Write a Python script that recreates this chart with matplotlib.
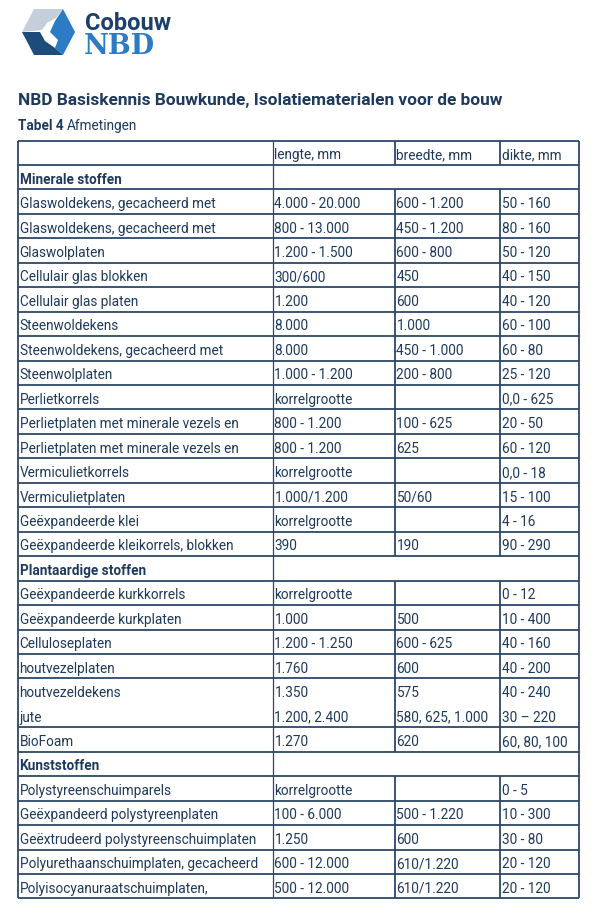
import matplotlib
matplotlib.use("Agg")
import matplotlib.pyplot as plt
from matplotlib.patches import Polygon

plt.rcParams['font.family'] = ['Roboto', 'DejaVu Sans']

title = "NBD Basiskennis Bouwkunde, Isolatiematerialen voor de bouw"
subtitle_bold = "Tabel 4"
subtitle = "Afmetingen"
headers = ["", "lengte, mm", "breedte, mm", "dikte, mm"]
sections = ["Minerale stoffen", "Plantaardige stoffen", "Kunststoffen"]

materials = [
    "Minerale stoffen",
    "Glaswoldekens, gecacheerd met",
    "Glaswoldekens, gecacheerd met",
    "Glaswolplaten",
    "Cellulair glas blokken",
    "Cellulair glas platen",
    "Steenwoldekens",
    "Steenwoldekens, gecacheerd met",
    "Steenwolplaten",
    "Perlietkorrels",
    "Perlietplaten met minerale vezels en",
    "Perlietplaten met minerale vezels en",
    "Vermiculietkorrels",
    "Vermiculietplaten",
    "Geëxpandeerde klei",
    "Geëxpandeerde kleikorrels, blokken",
    "Plantaardige stoffen",
    "Geëxpandeerde kurkkorrels",
    "Geëxpandeerde kurkplaten",
    "Celluloseplaten",
    "houtvezelplaten",
    "houtvezeldekens",
    "jute",
    "BioFoam",
    "Kunststoffen",
    "Polystyreenschuimparels",
    "Geëxpandeerd polystyreenplaten",
    "Geëxtrudeerd polystyreenschuimplaten",
    "Polyurethaanschuimplaten, gecacheerd",
    "Polyisocyanuraatschuimplaten,",
]
lengte = ["", "4.000 - 20.000", "800 - 13.000", "1.200 - 1.500", "300/600", "1.200",
          "8.000", "8.000", "1.000 - 1.200", "korrelgrootte", "800 - 1.200", "800 - 1.200",
          "korrelgrootte", "1.000/1.200", "korrelgrootte", "390",
          "", "korrelgrootte", "1.000", "1.200 - 1.250", "1.760", "1.350", "1.200, 2.400", "1.270",
          "", "korrelgrootte", "100 - 6.000", "1.250", "600 - 12.000", "500 - 12.000"]
breedte = ["", "600 - 1.200", "450 - 1.200", "600 - 800", "450", "600",
           "1.000", "450 - 1.000", "200 - 800", "", "100 - 625", "625",
           "", "50/60", "", "190",
           "", "", "500", "600 - 625", "600", "575", "580, 625, 1.000", "620",
           "", "", "500 - 1.220", "600", "610/1.220", "610/1.220"]
dikte = ["", "50 - 160", "80 - 160", "50 - 120", "40 - 150", "40 - 120",
         "60 - 100", "60 - 80", "25 - 120", "0,0 - 625", "20 - 50", "60 - 120",
         "0,0 - 18", "15 - 100", "4 - 16", "90 - 290",
         "", "0 - 12", "10 - 400", "40 - 160", "40 - 200", "40 - 240", "30 \u2013 220", "60, 80, 100",
         "", "0 - 5", "10 - 300", "30 - 80", "20 - 120", "20 - 120"]
no_line_above = ["jute"]

W, H = 600, 920
fig = plt.figure(figsize=(W / 100, H / 100), dpi=100)
ax = fig.add_axes([0, 0, 1, 1])
ax.set_xlim(0, W)
ax.set_ylim(H, 0)
ax.axis("off")

TXT = "#1e3a5c"
LINE = "#2c4868"

# ---- logo ----
gray = [(34, 10), (63, 10), (56, 19), (47, 24), (42, 31), (22, 33)]
blue = [(63, 10), (75, 33), (63, 56), (55, 49), (58, 41), (50, 33), (55, 22)]
dark = [(22, 33), (40, 33), (45, 42), (55, 49), (63, 56), (34, 56)]
ax.add_patch(Polygon(gray, closed=True, fc="#c5cfdb", ec="none"))
ax.add_patch(Polygon(blue, closed=True, fc="#2b7cc4", ec="none"))
ax.add_patch(Polygon(dark, closed=True, fc="#1d4c7c", ec="none"))
ax.text(85, 23, "Cobouw", fontsize=17, fontweight="bold", color="#1d3f6e",
        va="center", ha="left")
ax.text(84, 47, "NBD", fontsize=19.5, fontweight="bold", color="#2b7cc4",
        va="center", ha="left", family=["Roboto Slab", "DejaVu Serif"])

# ---- titles ----
ax.text(18, 101, title, fontsize=12.4, fontweight="bold", color=TXT, va="center", ha="left")
t = ax.text(18, 126, subtitle_bold + " ", fontsize=9.8, fontweight="bold", color=TXT,
            va="center", ha="left")
fig.canvas.draw()
bb = t.get_window_extent()
x_end = ax.transData.inverted().transform((bb.x1, bb.y0))[0]
ax.text(x_end, 126, subtitle, fontsize=9.8, color=TXT, va="center", ha="left")

# ---- table ----
cols = [18, 273, 395, 500, 579]
top = 141.5
rh = 24.45
rows = [headers] + [[m, l, b, d] for m, l, b, d in zip(materials, lengte, breedte, dikte)]
n = len(rows)
bottom = top + n * rh
lw = 1.3

# horizontal lines
ax.hlines(top, cols[0], cols[-1], color=LINE, lw=lw)
ax.hlines(bottom, cols[0], cols[-1], color=LINE, lw=lw)
for i in range(1, n):
    name = rows[i][0]
    if name in no_line_above:
        continue
    ax.hlines(top + i * rh, cols[0], cols[-1], color=LINE, lw=lw)

# vertical lines
ax.vlines(cols[0], top, bottom, color=LINE, lw=lw)
ax.vlines(cols[-1], top, bottom, color=LINE, lw=lw)
ax.vlines(cols[1], top, bottom, color=LINE, lw=0.9)
for i in range(n):
    y0, y1 = top + i * rh, top + (i + 1) * rh
    if rows[i][0] in sections:
        continue
    for c in cols[2:4]:
        ax.vlines(c, y0, y1, color=LINE, lw=lw)

# texts
for i, row in enumerate(rows):
    yc = top + (i + 0.5) * rh + 1.5
    is_sec = row[0] in sections
    for j, txt in enumerate(row):
        if not txt:
            continue
        ax.text(cols[j] + 1.5, yc, txt, fontsize=9.85,
                fontweight="bold" if is_sec else "normal",
                color=TXT, va="center", ha="left")

fig.savefig("out.png", dpi=100, facecolor="white")
